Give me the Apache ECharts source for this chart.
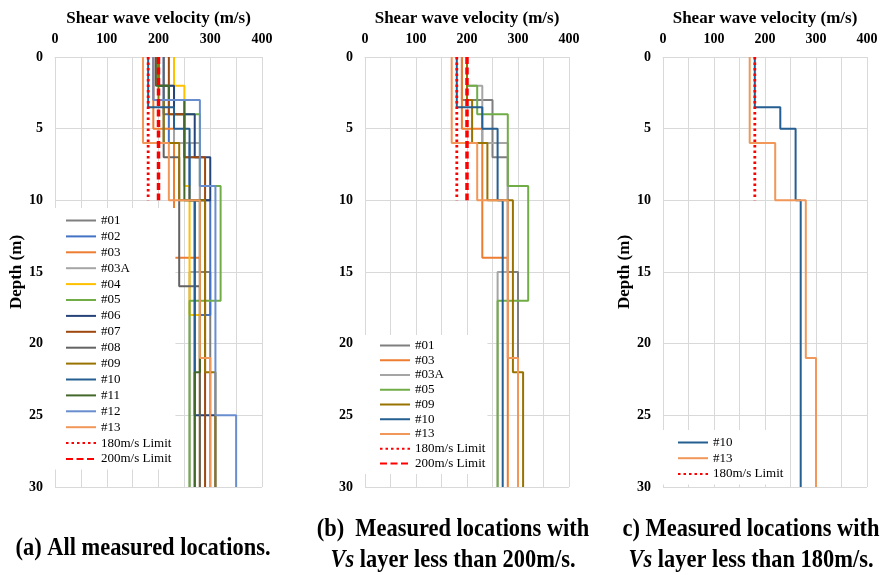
<!DOCTYPE html>
<html><head><meta charset="utf-8">
<script src="https://cdn.jsdelivr.net/npm/echarts@6/dist/echarts.min.js"></script>
<style>html,body{margin:0;padding:0;background:#fff}#c{width:881px;height:575px}</style>
</head><body><div id="c"></div>
<script>
// ---- data: shear wave velocity per layer (m/s) and layer boundaries (m) ----
const ids = ['#01','#02','#03','#03A','#04','#05','#06','#07','#08','#09','#10','#11','#12','#13'];
const vel01 = [190, 250, 280, 300];           const dep01 = [0, 3, 7, 15, 30];
const vel02 = [210, 220, 260, 300, 280];      const dep02 = [0, 4, 6, 10, 18, 30];
const vel03 = [190, 230, 280];                const dep03 = [0, 5, 14, 30];
const vel03A = [200, 230, 280, 260];          const dep03A = [0, 2, 6, 15, 30];
const vel04 = [230, 250, 260, 280];           const dep04 = [0, 2, 9, 18, 30];
const vel05 = [200, 220, 280, 320, 260];      const dep05 = [0, 2, 4, 9, 17, 30];
const vel06 = [200, 230, 270, 300, 270, 310]; const dep06 = [0, 2, 4, 7, 10, 25, 30];
const vel07 = [220, 250, 290];                const dep07 = [0, 4, 7, 30];
const vel08 = [210, 240, 280];                const dep08 = [0, 7, 16, 30];
const vel09 = [200, 210, 240, 290, 310];      const dep09 = [0, 3, 6, 10, 22, 30];
const vel10 = [180, 230, 260, 270];           const dep10 = [0, 3.5, 5, 10, 30];
const vel11 = [195, 220, 250, 280, 270];      const dep11 = [0, 2, 3, 10, 22, 30];
const vel12 = [190, 280, 310, 350];           const dep12 = [0, 3, 9, 25, 30];
const vel13 = [170, 220, 280, 300];           const dep13 = [0, 6, 10, 21, 30];
const colors = ['#7F7F7F','#4472C4','#ED7D31','#A5A5A5','#FFC000','#70AD47','#264478','#9E480E','#636363','#997300','#255E91','#43682B','#698ED0','#F1975A'];
const limit180Vel = [180, 180]; const limit200Vel = [200, 200]; const limitDepth = [0, 10];
const panelA = ids;
const panelB = ['#01','#03','#03A','#05','#09','#10','#13'];
const panelC = ['#10','#13'];
const xTickLabels = [0, 100, 200, 300, 400];
const captions = [
  ['(a) All measured locations.'],
  ['(b)  Measured locations with', '{i|Vs} layer less than 200m/s.'],
  ['c) Measured locations with', '{i|Vs} layer less than 180m/s.']
];

const profiles = {
  '#01': [vel01, dep01], '#02': [vel02, dep02], '#03': [vel03, dep03], '#03A': [vel03A, dep03A],
  '#04': [vel04, dep04], '#05': [vel05, dep05], '#06': [vel06, dep06], '#07': [vel07, dep07],
  '#08': [vel08, dep08], '#09': [vel09, dep09], '#10': [vel10, dep10], '#11': [vel11, dep11],
  '#12': [vel12, dep12], '#13': [vel13, dep13]
};
function stepData(v, d) {
  const out = [];
  for (let i = 0; i < v.length; i++) { out.push([v[i], d[i]]); out.push([v[i], d[i + 1]]); }
  return out;
}
const FONT = '"Liberation Serif", "Times New Roman", serif';
const gridCol = '#D9D9D9';
const grids = [
  {left: 55, top: 57, width: 207, height: 430},
  {left: 365, top: 57, width: 204, height: 430},
  {left: 663, top: 57, width: 204, height: 430}
];
const xAxes = grids.map((g, i) => ({
  type: 'value', gridIndex: i, position: 'top', min: 0, max: 400, interval: 50,
  name: 'Shear wave velocity (m/s)', nameLocation: 'middle', nameGap: 30,
  nameTextStyle: {fontFamily: FONT, fontWeight: 'bold', fontSize: 17, color: '#000'},
  axisLine: {show: true, lineStyle: {color: gridCol}}, axisTick: {show: false},
  axisLabel: {margin: 11, fontFamily: FONT, fontWeight: 'bold', fontSize: 14, color: '#000',
    formatter: v => xTickLabels.indexOf(v) >= 0 ? String(v) : ''},
  splitLine: {show: true, lineStyle: {color: gridCol, width: 1}}
}));
const yAxes = grids.map((g, i) => ({
  type: 'value', gridIndex: i, inverse: true, min: 0, max: 30, interval: 5,
  name: i === 1 ? '' : 'Depth (m)', nameLocation: 'middle', nameGap: 25, nameRotate: 90,
  nameTextStyle: {fontFamily: FONT, fontWeight: 'bold', fontSize: 17, color: '#000'},
  axisLine: {show: false}, axisTick: {show: false},
  axisLabel: {margin: 12, fontFamily: FONT, fontWeight: 'bold', fontSize: 14, color: '#000'},
  splitLine: {show: true, lineStyle: {color: gridCol, width: 1}}
}));
const series = [];
function addPanel(list, idx, limits) {
  list.forEach(id => {
    const [v, d] = profiles[id];
    const c = colors[ids.indexOf(id)];
    series.push({type: 'line', name: id, xAxisIndex: idx, yAxisIndex: idx, data: stepData(v, d),
      symbol: 'none', showSymbol: false, lineStyle: {color: c, width: 2}, itemStyle: {color: c}, silent: true});
  });
  if (limits.indexOf(180) >= 0) series.push({type: 'line', name: '180m/s Limit', xAxisIndex: idx, yAxisIndex: idx,
    data: limit180Vel.map((v, k) => [v, limitDepth[k]]), symbol: 'none', showSymbol: false,
    lineStyle: {color: '#FF0000', width: 2.8, type: [2.5, 3]}, itemStyle: {color: '#FF0000'}, silent: true});
  if (limits.indexOf(200) >= 0) series.push({type: 'line', name: '200m/s Limit', xAxisIndex: idx, yAxisIndex: idx,
    data: limit200Vel.map((v, k) => [v, limitDepth[k]]), symbol: 'none', showSymbol: false,
    lineStyle: {color: '#FF0000', width: 3.5, type: [7, 3.5]}, itemStyle: {color: '#FF0000'}, silent: true});
}
addPanel(panelA, 0, [180, 200]);
addPanel(panelB, 1, [180, 200]);
addPanel(panelC, 2, [180]);

const legendBase = {orient: 'vertical', itemWidth: 30, itemHeight: 14, backgroundColor: '#fff',
  selectedMode: false, itemStyle: {color: 'rgba(0,0,0,0)', borderWidth: 0, opacity: 0},
  textStyle: {fontFamily: FONT, fontSize: 13, color: '#000'}};
const legends = [
  Object.assign({}, legendBase, {left: 55, top: 208, itemGap: 2.9, padding: [6, 4, 4, 10],
    data: panelA.concat(['180m/s Limit', '200m/s Limit'])}),
  Object.assign({}, legendBase, {left: 365, top: 335, itemGap: 1.75, padding: [4, 2, 4, 14],
    data: panelB.concat(['180m/s Limit', '200m/s Limit'])}),
  Object.assign({}, legendBase, {left: 663, top: 430, itemGap: 2.7, padding: [6, 4, 4, 14],
    data: panelC.concat(['180m/s Limit'])})
];
const capStyle = {font: 'bold 25.5px ' + FONT, fill: '#000', textAlign: 'center', textVerticalAlign: 'middle',
  rich: {i: {fontStyle: 'italic', fontWeight: 'bold', fontSize: 25.5, fontFamily: FONT}}};
const capPos = [[143, [548]], [453, [529, 560]], [751, [529, 560]]];
const graphics = [];
captions.forEach((lines, i) => {
  lines.forEach((t, k) => {
    graphics.push({type: 'text', x: capPos[i][0], y: capPos[i][1][k], scaleX: 0.88,
      style: Object.assign({}, capStyle, {text: t})});
  });
});

const chart = echarts.init(document.getElementById('c'), null, {renderer: 'canvas'});
chart.setOption({
  animation: false, backgroundColor: '#fff',
  grid: grids, xAxis: xAxes, yAxis: yAxes, series: series, legend: legends, graphic: graphics
});
</script></body></html>
